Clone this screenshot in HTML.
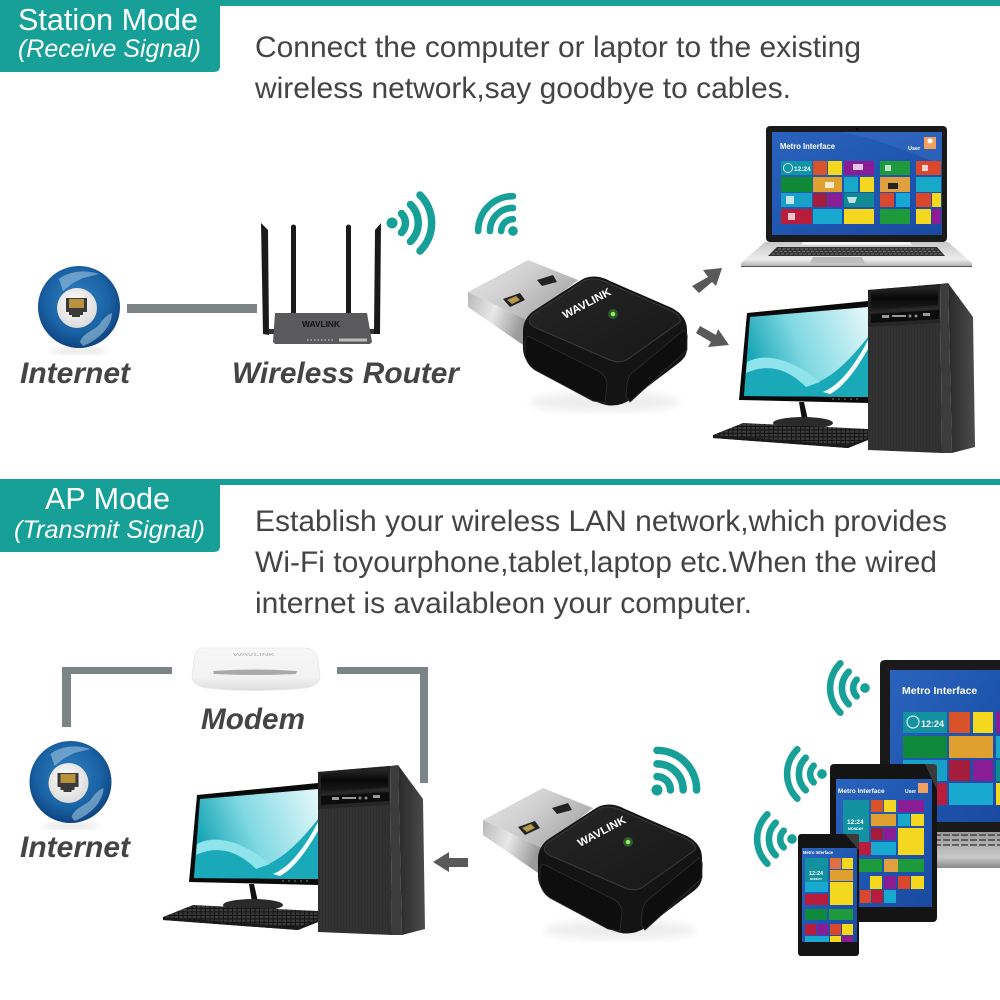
<!DOCTYPE html>
<html lang="en">
<head>
<meta charset="utf-8">
<title>Station Mode and AP Mode</title>
<style>
html,body{margin:0;padding:0;background:#fff;width:1000px;height:1000px;overflow:hidden}
svg{display:block;font-family:"Liberation Sans",Arial,sans-serif}
.h{fill:#fff;font-size:31px}
.s{fill:#fff;font-size:25px;font-style:italic}
.b{fill:#444;font-size:30px}
.l{fill:#444;font-size:30px;font-weight:bold;font-style:italic}
.t{fill:#fff;font-weight:bold}
</style>
</head>
<body>
<svg width="1000" height="1000" viewBox="0 0 1000 1000" xmlns="http://www.w3.org/2000/svg">
<defs>
<radialGradient id="gl" cx="48%" cy="42%" r="60%"><stop offset="0" stop-color="#2f80c0"/><stop offset=".65" stop-color="#1a62a4"/><stop offset="1" stop-color="#0d3f7c"/></radialGradient>
<radialGradient id="gi" cx="45%" cy="40%" r="65%"><stop offset="0" stop-color="#fff"/><stop offset="1" stop-color="#d8d8d8"/></radialGradient>
<linearGradient id="mtop" x1="0" y1="0" x2="1" y2=".6"><stop offset="0" stop-color="#e6e6e6"/><stop offset=".5" stop-color="#d0d0d0"/><stop offset="1" stop-color="#a6a6a6"/></linearGradient>
<linearGradient id="mfront" x1="0" y1="0" x2="1" y2=".3"><stop offset="0" stop-color="#b9b9b9"/><stop offset=".5" stop-color="#e8e8e8"/><stop offset="1" stop-color="#9a9a9a"/></linearGradient>
<linearGradient id="face" x1="0" y1="0" x2="1" y2="1"><stop offset="0" stop-color="#262626"/><stop offset="1" stop-color="#171717"/></linearGradient>
<linearGradient id="mon" x1="0" y1=".4" x2="1" y2=".1"><stop offset="0" stop-color="#17a5b5"/><stop offset=".4" stop-color="#7fd8e2"/><stop offset="1" stop-color="#e2f7fa"/></linearGradient>
<linearGradient id="blue" x1="0" y1="0" x2="1" y2="1"><stop offset="0" stop-color="#2a63bd"/><stop offset=".5" stop-color="#1f56b0"/><stop offset="1" stop-color="#1a4aa0"/></linearGradient>
<linearGradient id="silver" x1="0" y1="0" x2="0" y2="1"><stop offset="0" stop-color="#c8c8c8"/><stop offset=".7" stop-color="#ececec"/><stop offset="1" stop-color="#a8a8a8"/></linearGradient>
<linearGradient id="silver2" x1="0" y1="0" x2="0" y2="1"><stop offset="0" stop-color="#9a9a9a"/><stop offset=".7" stop-color="#c8c8c8"/><stop offset="1" stop-color="#8a8a8a"/></linearGradient>
<linearGradient id="side" x1="0" y1="0" x2="1" y2="0"><stop offset="0" stop-color="#2a2a2a"/><stop offset="1" stop-color="#4c4c4c"/></linearGradient>
<linearGradient id="gloss" x1="0" y1="0" x2="0" y2="1"><stop offset="0" stop-color="#2a2a2a"/><stop offset=".5" stop-color="#080808"/><stop offset="1" stop-color="#1c1c1c"/></linearGradient>
<linearGradient id="modem" x1="0" y1="0" x2="0" y2="1"><stop offset="0" stop-color="#f7f7f7"/><stop offset=".7" stop-color="#f2f2f2"/><stop offset="1" stop-color="#dcdcdc"/></linearGradient>
<pattern id="wood" width="3" height="30" patternUnits="userSpaceOnUse"><rect width="3" height="30" fill="#2e2e2e"/><path d="M1 0V30" stroke="#383838" stroke-width=".8"/></pattern>
<pattern id="keys" width="4.500" height="3.500" patternUnits="userSpaceOnUse"><rect width="4.500" height="3.500" fill="#151515"/><rect width="3.500" height="2.300" fill="#3c3c3c"/></pattern>
<filter id="blur"><feGaussianBlur stdDeviation="4"/></filter>

<g id="wifi" fill="none" stroke="#17a097" stroke-width="7.500" stroke-linecap="round">
<circle r="5.500" fill="#17a097" stroke="none"/>
<path d="M9.500 -9.500A13.500 13.500 0 0 1 9.500 9.500"/>
<path d="M18.500 -18.500A26 26 0 0 1 18.500 18.500"/>
<path d="M28 -28A39.500 39.500 0 0 1 28 28"/>
</g>

<g id="globe">
<ellipse cx="0" cy="44" rx="28" ry="3" fill="#ddd" filter="url(#blur)"/>
<circle r="41" fill="url(#gl)"/>
<path d="M-20 -28C-12 -35 5 -38 20 -33L4 -29L-6 -24L-16 -16Z" fill="#9dc3dd" opacity=".6"/>
<path d="M1 35C4 26 14 24 20 18C24 12 28 8 33 6C33 18 22 32 4 39Z" fill="#a9cfe2" opacity=".55"/>
<circle cx="-2" cy="1" r="20" fill="url(#gi)"/>
<path d="M-13 -9H8V5H4V8H1V10H-7V8H-10V5H-13Z" fill="#3a3a3a"/>
<rect x="-10" y="-8" width="15" height="9" fill="#b8923c"/>
</g>

<g id="dongle">
<ellipse cx="605" cy="402" rx="75" ry="10" fill="#eee" filter="url(#blur)"/>
<path d="M468 292L528 260L578 280L527 320Z" fill="url(#mtop)"/>
<path d="M468 292L527 320L523 345L468 307Z" fill="url(#mfront)"/>
<path d="M537 280L553 275L557 282L542 286Z" fill="#222"/>
<path d="M503 299L520 293L525 300L510 307Z" fill="#222"/>
<path d="M507 300L516 296L520 300L512 304Z" fill="#b89a4a"/>
<path d="M585 278Q597 274 610 281L672 308Q687 316 687 330V349Q687 356 680 362L630 400Q614 410 597 402L533 367Q523 360 523 348V331Q523 320 532 312L578 282Q581 280 585 278Z" fill="#141414"/>
<path d="M585 280Q597 277 608 283L670 310Q682 316 680 322L628 359Q620 364 610 360L534 327Q526 322 532 315L578 285Q581 283 585 280Z" fill="url(#face)" stroke="#3a3a3a" stroke-width="1"/>
<path d="M530 337L600 372Q607 377 607 384L605 403L593 401L535 370Q525 363 525 352V342Q526 335 530 337Z" fill="#0e0e0e" stroke="#2e2e2e" stroke-width=".8"/>
<path d="M684 330Q688 332 687 340V350L630 402L626 397L627 385Q628 376 633 372Z" fill="#0e0e0e" stroke="#2e2e2e" stroke-width=".8"/>
<circle cx="613" cy="314" r="5" fill="#58d850" opacity=".3"/>
<circle cx="613" cy="314" r="2.300" fill="#8cf05c"/>
</g>

<g id="desktop">
<path d="M747 313L868 301V403L739 400Z" fill="#0a0a0a"/>
<path d="M750 317L868 307V397L744 396Z" fill="url(#mon)"/>
<path d="M747 360C775 352 790 372 810 385C830 380 850 360 868 337V397L744 396Z" fill="#1aa9b8"/>
<path d="M747 362C770 350 800 365 820 382L806 387C790 371 770 362 746 373Z" fill="#8fe3ea"/>
<path d="M823 392C840 385 855 365 868 340V349C855 372 842 388 830 394Z" fill="#f4fdfe"/>
<path d="M832 399H862" stroke="#666" stroke-width="1.200" stroke-dasharray="2 4"/>
<path d="M799 402L804 402L808 420L802 420Z" fill="#111"/>
<ellipse cx="803" cy="423" rx="30" ry="6" fill="#2a2a2a"/>
<path d="M713 435L743 423L868 429V440L848 448L713 438Z" fill="url(#keys)"/>
<path d="M713 435V438L848 448L868 440V438L848 445Z" fill="#1a1a1a"/>
<path d="M868 290L940 284L942 453L868 450Z" fill="url(#wood)"/>
<path d="M940 284L948 283L952 453L942 453Z" fill="#3c3c3c"/>
<path d="M948 283L973 317L975 447L952 453Z" fill="url(#side)"/>
<path d="M868 290L940 284V307L868 312Z" fill="#222"/>
<path d="M871 292L938 286V305L871 310Z" fill="url(#gloss)"/>
<path d="M868 312L940 308V323L868 327Z" fill="#262626"/>
<path d="M871 314L939 310V319L871 323Z" fill="#0c0c0c"/>
<rect x="882" y="315" width="7" height="3" fill="#999"/>
<rect x="892" y="315" width="14" height="2" fill="#999"/>
<circle cx="910" cy="316" r="1.500" fill="#888"/>
<circle cx="916" cy="316" r="1.500" fill="#888"/>
<rect x="923" y="313" width="7" height="3" fill="#999"/>
</g>
</defs>

<!-- top section header -->
<rect x="0" y="0" width="1000" height="6" fill="#17a097"/>
<path d="M0 0H220V66Q220 72 214 72H0Z" fill="#17a097"/>
<text class="h" x="18" y="30" textLength="180" lengthAdjust="spacingAndGlyphs">Station Mode</text>
<text class="s" x="18" y="57" textLength="183" lengthAdjust="spacingAndGlyphs">(Receive Signal)</text>
<text class="b" x="255" y="57" textLength="606" lengthAdjust="spacingAndGlyphs">Connect the computer or laptor to the existing</text>
<text class="b" x="255" y="98" textLength="536" lengthAdjust="spacingAndGlyphs">wireless network,say goodbye to cables.</text>

<!-- station: internet + router -->
<use href="#globe" x="79" y="307"/>
<rect x="127" y="304" width="130" height="9" fill="#7b8585"/>
<text class="l" x="20" y="383" textLength="110" lengthAdjust="spacingAndGlyphs">Internet</text>
<path d="M261 223L268 230L269 335L263 334Z" fill="#1a1a1a"/>
<path d="M291 226Q293.500 223 296 226V313H291Z" fill="#1a1a1a"/>
<path d="M346 226Q348.500 223 351 226V313H346Z" fill="#1a1a1a"/>
<path d="M381 223L375 230L374 334L380 334Z" fill="#1a1a1a"/>
<path d="M269 329H276V334H269Z" fill="#333"/>
<path d="M367 329H374V334H367Z" fill="#333"/>
<path d="M275 313H367L372 342L370 344H275L273 342Z" fill="#5a5a5c"/>
<text x="321" y="327" text-anchor="middle" font-size="8" font-weight="bold" fill="#111" textLength="38" lengthAdjust="spacingAndGlyphs">WAVLINK</text>
<path d="M307 340H333" stroke="#c8c8c8" stroke-width="1.200" stroke-dasharray="1.500 2"/>
<rect x="339" y="338.500" width="28" height="3" fill="#bbb"/>
<text class="l" x="232" y="383" textLength="227" lengthAdjust="spacingAndGlyphs">Wireless Router</text>
<use href="#wifi" transform="translate(392 223)"/>
<use href="#wifi" transform="translate(513 231) rotate(-135) scale(.88)"/>

<!-- station dongle -->
<use href="#dongle"/>
<text class="t" transform="translate(565 319) rotate(-28)" font-size="11" textLength="53" lengthAdjust="spacingAndGlyphs">WAVLINK</text>

<!-- station arrows -->
<path d="M722 268L703 270L708 277L692 286L699 293L712 282L716 286Z" fill="#595959"/>
<path d="M729 345L718 329L716 335L700 326L696 333L711 342L708 347Z" fill="#595959"/>

<!-- station laptop -->
<rect x="766" y="126" width="181" height="116" rx="4" fill="#1a1a1a"/>
<rect x="772" y="132" width="170" height="103" fill="url(#blue)"/>
<path d="M843 132H942V165Q880 140 855 135Z" fill="#4b7fd0" opacity=".3"/>
<circle cx="857" cy="129" r="1.200" fill="#000"/>
<text class="t" x="780" y="149" font-size="8" textLength="55" lengthAdjust="spacingAndGlyphs">Metro Interface</text>
<text class="t" x="908" y="150" font-size="5.500">User</text>
<rect x="924" y="137" width="12" height="12" fill="#f0a060"/>
<circle cx="930" cy="141" r="2.500" fill="#fff"/>
<rect x="781" y="161" width="31" height="14" fill="#1094a8"/>
<rect x="813" y="161" width="14" height="14" fill="#d8532a"/>
<rect x="828" y="161" width="14" height="14" fill="#f4d820"/>
<rect x="844" y="161" width="30" height="14" fill="#8a1d96"/>
<rect x="880" y="161" width="30" height="14" fill="#1c9a3c"/>
<rect x="916" y="161" width="25" height="14" fill="#d9472c"/>
<rect x="781" y="177" width="31" height="15" fill="#0e8a36"/>
<rect x="813" y="177" width="29" height="15" fill="#e0a030"/>
<rect x="844" y="177" width="14" height="15" fill="#1aa8c8"/>
<rect x="860" y="177" width="14" height="15" fill="#f4d820"/>
<rect x="880" y="177" width="30" height="15" fill="#e0a040"/>
<rect x="916" y="177" width="25" height="15" fill="#18a8c8"/>
<rect x="781" y="193" width="31" height="14" fill="#18a0c8"/>
<rect x="813" y="193" width="14" height="14" fill="#a51d3c"/>
<rect x="828" y="193" width="14" height="14" fill="#8a1d96"/>
<rect x="844" y="193" width="30" height="14" fill="#0e8a90"/>
<rect x="880" y="193" width="14" height="14" fill="#d9472c"/>
<rect x="896" y="193" width="14" height="14" fill="#18a8d8"/>
<rect x="916" y="193" width="15" height="14" fill="#d9472c"/>
<rect x="932" y="193" width="9" height="14" fill="#f4d820"/>
<rect x="781" y="209" width="31" height="15" fill="#b81e3c"/>
<rect x="813" y="209" width="29" height="15" fill="#18a8d0"/>
<rect x="844" y="209" width="30" height="15" fill="#f4d820"/>
<rect x="880" y="209" width="30" height="15" fill="#1c9a3c"/>
<rect x="916" y="209" width="15" height="15" fill="#f4d820"/>
<rect x="932" y="209" width="9" height="15" fill="#8a1d96"/>
<circle cx="788" cy="168" r="4.500" fill="none" stroke="#fff" stroke-width=".8"/>
<text class="t" x="794" y="171" font-size="6.500">12:24</text>
<path d="M825 182H834V188H825Z" fill="#f5e9d0"/>
<path d="M768 185H770" stroke="none"/>
<path d="M922 165h6v6h-6zM885 165h6v6h-6zM853 164h10v6h-10zM847 197h10l-2 6h-6zM786 196h8v8h-8zM788 213h7v7h-7z" fill="#fff" opacity=".75"/>
<path d="M888 183h10v6h-10z" fill="#222"/>
<path d="M765 242H948L972 263V266L970 267H743L741 266V263Z" fill="url(#silver)"/>
<path d="M741 266.500H972" stroke="#555" stroke-width="1"/>
<path d="M803 242H910L912 245H801Z" fill="#f2f2f2"/>
<path d="M777 247H937L945 256H768Z" fill="#333"/>
<path d="M778 249H936M775 251.500H939M772 254H942" stroke="#888" stroke-width=".8" stroke-dasharray="3 1.500"/>
<path d="M813 257H862L865 263H810Z" fill="#bdbdbd"/>

<!-- station desktop -->
<use href="#desktop"/>

<!-- second section header -->
<rect x="0" y="479" width="1000" height="6" fill="#17a097"/>
<path d="M0 479H220V546Q220 552 214 552H0Z" fill="#17a097"/>
<text class="h" x="45" y="509" textLength="125" lengthAdjust="spacingAndGlyphs">AP Mode</text>
<text class="s" x="14" y="538" textLength="191" lengthAdjust="spacingAndGlyphs">(Transmit Signal)</text>
<text class="b" x="255" y="531" textLength="692" lengthAdjust="spacingAndGlyphs">Establish your wireless LAN network,which provides</text>
<text class="b" x="255" y="572" textLength="682" lengthAdjust="spacingAndGlyphs">Wi-Fi toyourphone,tablet,laptop etc.When the wired</text>
<text class="b" x="255" y="613" textLength="497" lengthAdjust="spacingAndGlyphs">internet is availableon your computer.</text>

<!-- AP wired path -->
<path d="M172 667H62V727H71V674H172Z" fill="#7b8585"/>
<path d="M337 667H428V783H420V674H337Z" fill="#7b8585"/>
<use href="#globe" x="70.500" y="782"/>
<text class="l" x="20" y="857" textLength="110" lengthAdjust="spacingAndGlyphs">Internet</text>

<!-- modem -->
<path d="M202 648H306Q316 649 318 660L320 676Q320 685 306 688Q254 693 206 688Q192 685 192 676L194 660Q195 649 202 648Z" fill="url(#modem)" stroke="#e8e8e8" stroke-width=".8"/>
<path d="M213 671Q255 668 297 671L296 674Q255 676 214 674Z" fill="#a9a9a9"/>
<text x="254" y="656" text-anchor="middle" font-size="4.500" fill="#aaa" textLength="42" lengthAdjust="spacingAndGlyphs">WAVLINK</text>
<text class="l" x="201" y="729" textLength="104" lengthAdjust="spacingAndGlyphs">Modem</text>

<!-- AP desktop -->
<use href="#desktop" transform="translate(-550 482)"/>

<!-- AP arrow + dongle -->
<path d="M433 862L449 852V858H468V867H449V872Z" fill="#595959"/>
<use href="#dongle" transform="translate(15 528)"/>
<text class="t" transform="translate(580 847) rotate(-28)" font-size="11" textLength="53" lengthAdjust="spacingAndGlyphs">WAVLINK</text>
<use href="#wifi" transform="translate(657 790) rotate(-45)"/>

<!-- AP wifi icons to devices -->
<use href="#wifi" transform="translate(865 688) rotate(180) scale(.88)"/>
<use href="#wifi" transform="translate(822 774) rotate(180) scale(.88)"/>
<use href="#wifi" transform="translate(792 839) rotate(180) scale(.88)"/>

<!-- AP laptop -->
<path d="M885 660H1000V832H880V665Q880 660 885 660Z" fill="#1a1a1a"/>
<rect x="890" y="670" width="110" height="152" fill="url(#blue)"/>
<text class="t" x="902" y="694" font-size="10.500">Metro Interface</text>
<rect x="903" y="712" width="44" height="21" fill="#1292a0"/>
<rect x="949" y="712" width="21" height="21" fill="#d8532a"/>
<rect x="973" y="712" width="20" height="21" fill="#f4d820"/>
<rect x="996" y="712" width="4" height="21" fill="#8a1d96"/>
<rect x="903" y="736" width="44" height="22" fill="#0f8a3c"/>
<rect x="949" y="736" width="44" height="22" fill="#e0a030"/>
<rect x="996" y="736" width="4" height="22" fill="#1aa8c8"/>
<rect x="903" y="760" width="44" height="21" fill="#18a0c8"/>
<rect x="949" y="760" width="21" height="21" fill="#a51d3c"/>
<rect x="973" y="760" width="20" height="21" fill="#8a1d96"/>
<rect x="996" y="760" width="4" height="21" fill="#0e8a90"/>
<rect x="903" y="783" width="44" height="22" fill="#b81e3c"/>
<rect x="949" y="783" width="44" height="22" fill="#18a8d0"/>
<rect x="996" y="783" width="4" height="22" fill="#f4d820"/>
<circle cx="913" cy="722" r="6" fill="none" stroke="#fff" stroke-width="1"/>
<text class="t" x="921" y="727" font-size="9">12:24</text>
<path d="M880 832H1000V868H880Z" fill="url(#silver2)"/>
<path d="M880 835H1000M880 840H1000M880 845H1000" stroke="#444" stroke-width="1.500" stroke-dasharray="7 2"/>

<!-- AP tablet -->
<rect x="830" y="764" width="107" height="158" rx="4" fill="#141414"/>
<path d="M865 764H925L937 790V764Z" fill="#555" opacity=".6"/>
<rect x="836" y="779" width="96" height="128" fill="url(#blue)"/>
<text class="t" x="838" y="793" font-size="6.500">Metro Interface</text>
<text class="t" x="905" y="793" font-size="5">User</text>
<rect x="918" y="783" width="10" height="10" fill="#f0a060"/>
<rect x="843" y="800" width="26" height="43" fill="#1292a0"/>
<text class="t" x="847" y="824" font-size="6.500">12:24</text>
<text class="t" x="848" y="830" font-size="3.500">MONDAY</text>
<rect x="871" y="800" width="12" height="12" fill="#d8532a"/>
<rect x="884" y="800" width="12" height="12" fill="#f4d820"/>
<rect x="898" y="800" width="26" height="12" fill="#8a1d96"/>
<rect x="871" y="814" width="25" height="12" fill="#e0a030"/>
<rect x="898" y="814" width="12" height="12" fill="#1aa8c8"/>
<rect x="911" y="814" width="13" height="12" fill="#f4d820"/>
<rect x="871" y="828" width="12" height="12" fill="#a51d3c"/>
<rect x="884" y="828" width="12" height="12" fill="#8a1d96"/>
<rect x="898" y="828" width="26" height="27" fill="#f4d820"/>
<rect x="843" y="842" width="28" height="13" fill="#b81e3c"/>
<rect x="871" y="842" width="25" height="13" fill="#18a8d0"/>
<rect x="858" y="859" width="24" height="13" fill="#1c9a3c"/>
<rect x="884" y="859" width="26" height="13" fill="#e0a040"/>
<rect x="898" y="859" width="26" height="13" fill="#1c9a3c"/>
<rect x="870" y="876" width="12" height="13" fill="#f4d820"/>
<rect x="884" y="876" width="12" height="13" fill="#8a1d96"/>
<rect x="898" y="876" width="12" height="13" fill="#d9472c"/>
<rect x="911" y="876" width="13" height="13" fill="#f4d820"/>
<rect x="860" y="890" width="11" height="13" fill="#d9472c"/>
<rect x="872" y="890" width="11" height="13" fill="#b81e3c"/>
<rect x="884" y="890" width="12" height="13" fill="#18a8d0"/>

<!-- AP phone -->
<rect x="798" y="834" width="61" height="122" rx="3" fill="#141414"/>
<path d="M810 834H845L859 850V834Z" fill="#4d4d4d" opacity=".7"/>
<rect x="802" y="848" width="55" height="94" fill="url(#blue)"/>
<text class="t" x="803" y="854" font-size="4.200">Metro Interface</text>
<rect x="805" y="858" width="23" height="27" fill="#1292a0"/>
<text class="t" x="809" y="875" font-size="5.500">12:24</text>
<text class="t" x="810" y="880" font-size="2.800">MONDAY</text>
<rect x="830" y="858" width="11" height="11" fill="#e07040"/>
<rect x="842" y="858" width="11" height="11" fill="#f4d820"/>
<rect x="830" y="870" width="23" height="11" fill="#e0a030"/>
<rect x="805" y="882" width="23" height="10" fill="#18a8d0"/>
<rect x="830" y="882" width="23" height="23" fill="#f4d820"/>
<rect x="805" y="894" width="23" height="11" fill="#b81e3c"/>
<rect x="805" y="909" width="22" height="11" fill="#0f8a3c"/>
<rect x="829" y="909" width="24" height="11" fill="#1c9a3c"/>
<rect x="805" y="924" width="11" height="11" fill="#b81e3c"/>
<rect x="817" y="924" width="11" height="11" fill="#8a1d96"/>
<rect x="830" y="924" width="11" height="11" fill="#d9472c"/>
<rect x="842" y="924" width="11" height="11" fill="#f4d820"/>
<rect x="805" y="936" width="24" height="6" fill="#18a8d0"/>
<rect x="830" y="936" width="11" height="6" fill="#f4d820"/>
<rect x="842" y="936" width="11" height="6" fill="#8a1d96"/>
</svg>
</body>
</html>
